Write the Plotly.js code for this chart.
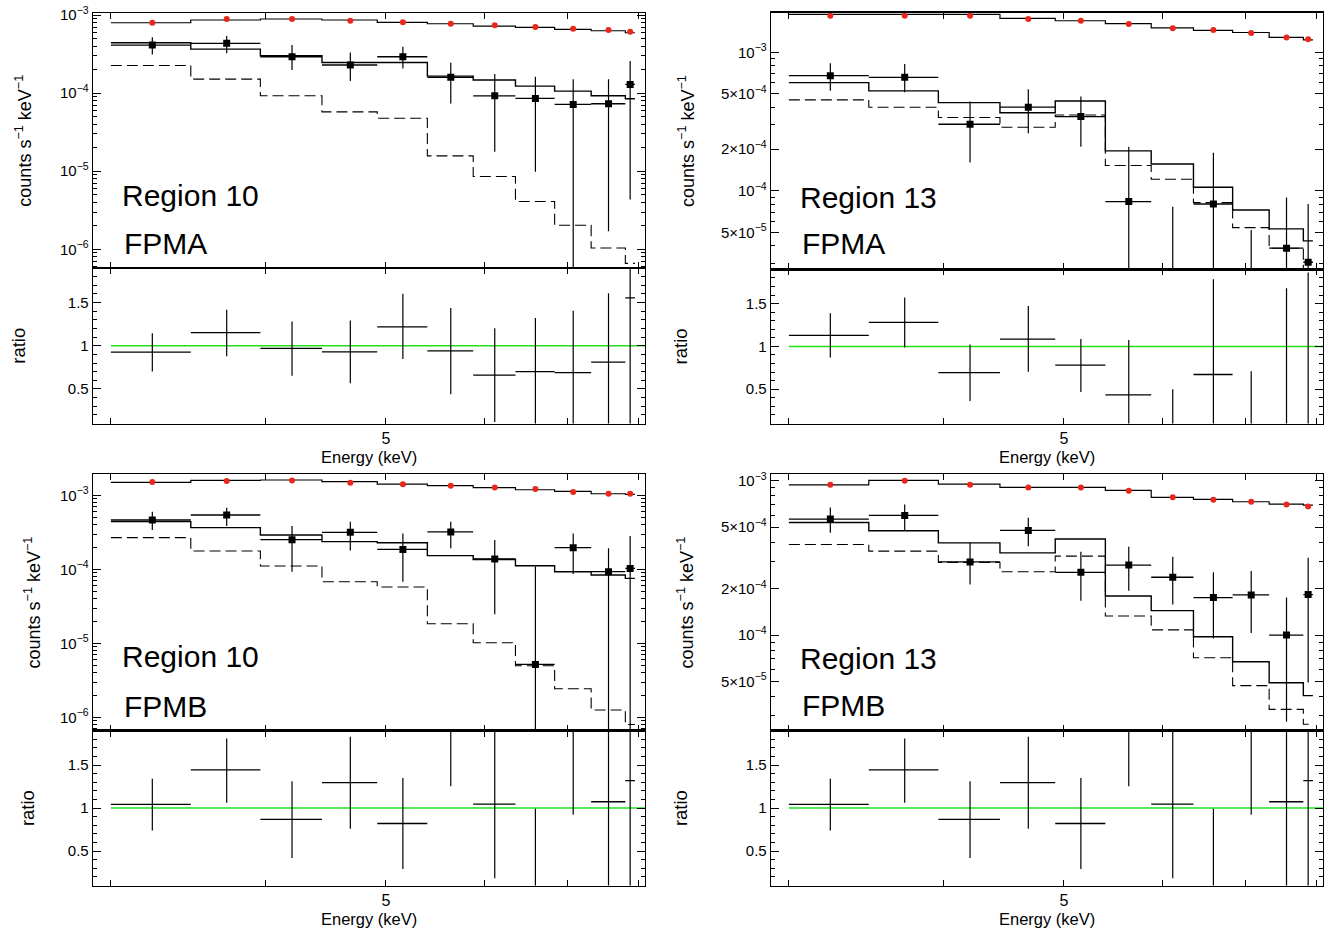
<!DOCTYPE html>
<html>
<head>
<meta charset="utf-8">
<script src="https://cdn.plot.ly/plotly-3.0.1.min.js"></script>
<style>html,body{margin:0;padding:0;background:#fff;}#chart{width:1331px;height:931px;}</style>
</head>
<body>
<div id="chart"></div>
<script>
// ---- energy binning (keV) ----
const binEdges = [3.00, 3.48, 3.96, 4.44, 4.92, 5.40, 5.88, 6.36, 6.84, 7.32, 7.80, 7.94];
const xTickVals = [3, 4, 5, 6, 7, 8];
const xTickText = ['', '', '5', '', '', ''];

// ---- Region 10 FPMA ----
const r10A_bg      = [7.96e-4, 8.89e-4, 8.89e-4, 8.45e-4, 8.05e-4, 7.73e-4, 7.38e-4, 7.02e-4, 6.67e-4, 6.42e-4, 6.11e-4];
const r10A_bgModel = [7.96e-4, 8.63e-4, 8.89e-4, 8.63e-4, 8.05e-4, 7.73e-4, 7.22e-4, 6.95e-4, 6.56e-4, 6.29e-4, 5.93e-4];
const r10A_src     = [4.12e-4, 4.34e-4, 2.92e-4, 2.29e-4, 2.92e-4, 1.59e-4, 9.22e-5, 8.55e-5, 7.17e-5, 7.30e-5, 1.29e-4];
const r10A_srcHi   = [5.18e-4, 5.38e-4, 4.12e-4, 3.32e-4, 3.93e-4, 2.45e-4, 1.75e-4, 1.62e-4, 1.50e-4, 1.50e-4, 2.57e-4];
const r10A_srcLo   = [3.13e-4, 3.23e-4, 1.97e-4, 1.43e-4, 2.07e-4, 7.38e-5, 1.77e-5, 9.8e-6, 1e-9, 1.7e-6, 4.34e-6];
const r10A_model   = [4.41e-4, 3.66e-4, 3.01e-4, 2.47e-4, 2.47e-4, 1.65e-4, 1.47e-4, 1.23e-4, 1.06e-4, 9.24e-5, 8.45e-5];
const r10A_comp    = [2.26e-4, 1.51e-4, 9.24e-5, 5.75e-5, 4.77e-5, 1.57e-5, 8.55e-6, 4.09e-6, 2.03e-6, 1.04e-6, 6.6e-7];
const r10A_ratio   = [0.926, 1.152, 0.969, 0.930, 1.219, 0.941, 0.660, 0.700, 0.690, 0.810, 1.555];
const r10A_ratioHi = [1.145, 1.418, 1.281, 1.293, 1.602, 1.438, 1.203, 1.320, 1.406, 1.609, 2.5];
const r10A_ratioLo = [0.703, 0.879, 0.652, 0.566, 0.848, 0.438, 0.117, -0.5, -0.5, -0.5, -0.5];

// ---- Region 13 FPMA ----
const r13A_bg      = [1.84e-3, 1.84e-3, 1.84e-3, 1.74e-3, 1.69e-3, 1.60e-3, 1.49e-3, 1.45e-3, 1.38e-3, 1.28e-3, 1.24e-3];
const r13A_bgModel = [1.88e-3, 1.88e-3, 1.88e-3, 1.76e-3, 1.69e-3, 1.61e-3, 1.50e-3, 1.44e-3, 1.39e-3, 1.28e-3, 1.23e-3];
const r13A_src     = [6.78e-4, 6.59e-4, 3.02e-4, 4.01e-4, 3.43e-4, 8.34e-5, 1.5e-5, 8.01e-5, 1.5e-5, 3.84e-5, 3.04e-5];
const r13A_srcHi   = [8.33e-4, 8.23e-4, 4.41e-4, 5.41e-4, 4.79e-4, 2.08e-4, 7.67e-5, 1.88e-4, 5.2e-5, 8.91e-5, 8.0e-5];
const r13A_srcLo   = [5.28e-4, 5.14e-4, 1.60e-4, 2.60e-4, 2.08e-4, 1e-6, 1e-6, 1e-6, 1e-6, 1e-6, 1e-6];
const r13A_model   = [6.04e-4, 5.26e-4, 4.33e-4, 3.66e-4, 4.45e-4, 1.94e-4, 1.56e-4, 1.06e-4, 7.26e-5, 5.30e-5, 4.34e-5];
const r13A_comp    = [4.53e-4, 4.01e-4, 3.38e-4, 2.87e-4, 3.52e-4, 1.52e-4, 1.21e-4, 8.20e-5, 5.41e-5, 3.84e-5, 2.60e-5];
const r13A_ratio   = [1.129, 1.281, 0.695, 1.086, 0.781, 0.434, 0.02, 0.672, 0.02, 0.02, 0.02];
const r13A_ratioHi = [1.387, 1.570, 1.023, 1.473, 1.086, 1.074, 0.500, 1.785, 0.711, 1.680, 1.863];
const r13A_ratioLo = [0.871, 0.988, 0.363, 0.703, 0.469, -0.5, -0.5, -0.5, -0.5, -0.5, -0.5];

// ---- Region 10 FPMB ----
const r10B_bg      = [1.51e-3, 1.56e-3, 1.58e-3, 1.48e-3, 1.41e-3, 1.35e-3, 1.28e-3, 1.22e-3, 1.11e-3, 1.05e-3, 1.05e-3];
const r10B_bgModel = [1.50e-3, 1.59e-3, 1.61e-3, 1.53e-3, 1.42e-3, 1.35e-3, 1.27e-3, 1.19e-3, 1.13e-3, 1.05e-3, 1.03e-3];
const r10B_src     = [4.64e-4, 5.42e-4, 2.52e-4, 3.16e-4, 1.86e-4, 3.20e-4, 1.38e-4, 5.2e-6, 1.96e-4, 9.29e-5, 1.03e-4];
const r10B_srcHi   = [6.01e-4, 6.81e-4, 3.85e-4, 4.41e-4, 3.06e-4, 4.41e-4, 2.49e-4, 1.09e-4, 3.06e-4, 1.92e-4, 2.82e-4];
const r10B_srcLo   = [3.40e-4, 3.85e-4, 9.3e-5, 1.79e-4, 6.8e-5, 1.92e-4, 2.47e-5, 1e-9, 8.65e-5, 1e-9, 1e-9];
const r10B_model   = [4.41e-4, 3.66e-4, 2.91e-4, 2.37e-4, 2.29e-4, 1.53e-4, 1.36e-4, 1.12e-4, 9.29e-5, 8.38e-5, 7.55e-5];
const r10B_comp    = [2.68e-4, 1.77e-4, 1.11e-4, 6.81e-5, 5.77e-5, 1.84e-5, 1.02e-5, 4.99e-6, 2.44e-6, 1.26e-6, 8.03e-7];
const r10B_ratio   = [1.043, 1.444, 0.868, 1.296, 0.821, 2.300, 1.047, 0.046, 2.100, 1.074, 1.319];
const r10B_ratioHi = [1.342, 1.809, 1.311, 1.829, 1.350, 3.0, 2.5, 0.992, 3.0, 2.5, 2.5];
const r10B_ratioLo = [0.739, 1.062, 0.420, 0.759, 0.292, 1.253, 0.183, -0.5, 0.922, -0.5, -0.5];

// ---- Region 13 FPMB ----
const r13B_bg      = [9.42e-4, 1.00e-3, 9.42e-4, 9.05e-4, 9.05e-4, 8.61e-4, 7.83e-4, 7.53e-4, 7.31e-4, 7.03e-4, 6.82e-4];
const r13B_bgModel = [9.42e-4, 1.005e-3, 9.52e-4, 9.05e-4, 9.05e-4, 8.66e-4, 7.80e-4, 7.57e-4, 7.31e-4, 7.06e-4, 6.95e-4];
const r13B_src     = [5.65e-4, 5.96e-4, 2.98e-4, 4.77e-4, 2.55e-4, 2.84e-4, 2.37e-4, 1.75e-4, 1.82e-4, 1.00e-4, 1.83e-4];
const r13B_srcHi   = [6.72e-4, 7.03e-4, 3.98e-4, 5.76e-4, 3.47e-4, 3.73e-4, 3.22e-4, 2.55e-4, 2.60e-4, 1.75e-4, 3.17e-4];
const r13B_srcLo   = [4.60e-4, 4.72e-4, 2.13e-4, 3.77e-4, 1.67e-4, 1.94e-4, 1.58e-4, 9.5e-5, 1.03e-4, 2.74e-5, 4.93e-5];
const r13B_model   = [5.37e-4, 4.74e-4, 3.96e-4, 3.41e-4, 4.19e-4, 1.79e-4, 1.44e-4, 9.75e-5, 6.71e-5, 4.91e-5, 4.05e-5];
const r13B_comp    = [3.86e-4, 3.50e-4, 2.96e-4, 2.57e-4, 3.25e-4, 1.33e-4, 1.08e-4, 7.13e-5, 4.70e-5, 3.30e-5, 2.64e-5];
const r13B_ratio   = [1.043, 1.444, 0.868, 1.296, 0.821, 2.300, 1.047, 0.046, 2.100, 1.074, 1.319];
const r13B_ratioHi = [1.342, 1.809, 1.311, 1.829, 1.350, 3.0, 2.5, 0.992, 3.0, 2.5, 2.5];
const r13B_ratioLo = [0.739, 1.062, 0.420, 0.759, 0.292, 1.253, 0.183, -0.5, 0.922, -0.5, -0.5];

// panel labels
const regionLabels = ['Region 10', 'Region 13', 'Region 10', 'Region 13'];
const moduleLabels = ['FPMA', 'FPMA', 'FPMB', 'FPMB'];
const unityLine = [1, 1];
const unityX = [3.0, 9.0];

// ---------- build ----------
const W = 1331, H = 931;
const FONT = 'Liberation Sans, Arial, Helvetica, sans-serif';
const centers = binEdges.slice(0, -1).map((e, i) => (e + binEdges[i + 1]) / 2);
const halfW = binEdges.slice(0, -1).map((e, i) => (binEdges[i + 1] - e) / 2);
const stepY = v => v.concat([v[v.length - 1]]);
const sup = s => s.replace(/\^(-?\d+)/g, (m, p) => '<sup>' + p.replace('-', '−') + '</sup>');

const panels = [
  {bg: r10A_bg, bgm: r10A_bgModel, src: r10A_src, hi: r10A_srcHi, lo: r10A_srcLo, model: r10A_model, comp: r10A_comp,
   ratio: r10A_ratio, rhi: r10A_ratioHi, rlo: r10A_ratioLo,
   xd: [93, 645], sy: [13.3, 268], ry: [268, 423.5], yr: [-6.24, -2.978], style: 'decade',
   lab: [120, 195, 243], yt: [24, 19]},
  {bg: r13A_bg, bgm: r13A_bgModel, src: r13A_src, hi: r13A_srcHi, lo: r13A_srcLo, model: r13A_model, comp: r13A_comp,
   ratio: r13A_ratio, rhi: r13A_ratioHi, rlo: r13A_ratioLo,
   xd: [771, 1323], sy: [12.7, 269.3], ry: [269.3, 423.5], yr: [-4.568, -2.714], style: 'fine',
   lab: [798, 197, 243], yt: [686, 680]},
  {bg: r10B_bg, bgm: r10B_bgModel, src: r10B_src, hi: r10B_srcHi, lo: r10B_srcLo, model: r10B_model, comp: r10B_comp,
   ratio: r10B_ratio, rhi: r10B_ratioHi, rlo: r10B_ratioLo,
   xd: [93, 645], sy: [474.3, 730.7], ry: [730.7, 885.5], yr: [-6.18, -2.716], style: 'decade',
   lab: [120, 656, 706], yt: [33, 27]},
  {bg: r13B_bg, bgm: r13B_bgModel, src: r13B_src, hi: r13B_srcHi, lo: r13B_srcLo, model: r13B_model, comp: r13B_comp,
   ratio: r13B_ratio, rhi: r13B_ratioHi, rlo: r13B_ratioLo,
   xd: [771, 1323], sy: [474.3, 730.7], ry: [730.7, 885.5], yr: [-4.62, -2.958], style: 'fine',
   lab: [798, 658, 705], yt: [686, 680]}
];

const traces = [];
const layout = {
  width: W, height: H, margin: {l: 0, r: 0, t: 0, b: 0},
  paper_bgcolor: '#fff', plot_bgcolor: '#fff', showlegend: false,
  font: {family: FONT, size: 15, color: '#000'},
  annotations: [], shapes: []
};

const axBase = {
  showline: true, linecolor: '#000', linewidth: 1.3, mirror: 'ticks',
  ticks: 'inside', tickcolor: '#000', tickwidth: 1, showgrid: false, zeroline: false,
  tickfont: {family: FONT, size: 15, color: '#000'}, fixedrange: true
};

function logMinor(lo, hi, skip) {
  const out = [];
  for (let e = lo; e <= hi; e++) {
    for (let m = 2; m <= 9; m++) {
      if (skip.indexOf(m) < 0) out.push(m * Math.pow(10, e));
    }
  }
  return out;
}

panels.forEach((p, i) => {
  const sN = 2 * i + 1, rN = 2 * i + 2;
  const sx = 'x' + (sN === 1 ? '' : sN), syk = 'y' + (sN === 1 ? '' : sN);
  const rx = 'x' + rN, ryk = 'y' + rN;
  const xDom = [p.xd[0] / W, p.xd[1] / W];
  const sDom = [1 - p.sy[1] / H, 1 - p.sy[0] / H];
  const rDom = [1 - p.ry[1] / H, 1 - p.ry[0] / H];
  const xr = [Math.log10(2.902), Math.log10(8.09)];

  layout['xaxis' + (sN === 1 ? '' : sN)] = Object.assign({}, axBase, {
    type: 'log', domain: xDom, range: xr, anchor: syk,
    tickmode: 'array', tickvals: xTickVals, ticktext: xTickText, ticklen: 6, showticklabels: false
  });
  layout['xaxis' + rN] = Object.assign({}, axBase, {
    type: 'log', domain: xDom, range: xr, anchor: ryk,
    tickmode: 'array', tickvals: xTickVals, ticktext: xTickText, ticklen: 6,
    tickfont: {family: FONT, size: 16, color: '#000'}
  });

  let tv, tt, mv;
  if (p.style === 'decade') {
    tv = [1e-7, 1e-6, 1e-5, 1e-4, 1e-3];
    tt = tv.map(v => sup('10^' + Math.round(Math.log10(v))));
    mv = logMinor(-7, -3, []);
  } else {
    tv = [2e-5, 5e-5, 1e-4, 2e-4, 5e-4, 1e-3, 2e-3];
    tt = tv.map(v => {
      const e = Math.floor(Math.log10(v) + 1e-9);
      const m = Math.round(v / Math.pow(10, e));
      return (m === 1 ? '' : m + '×') + sup('10^' + e);
    });
    mv = logMinor(-5, -3, [1, 2, 5]);
  }
  layout['yaxis' + (sN === 1 ? '' : sN)] = Object.assign({}, axBase, {
    type: 'log', domain: sDom, range: p.yr, anchor: sx,
    tickmode: 'array', tickvals: tv, ticktext: tt, ticklen: 8
  });
  const rMinor = [];
  for (let k = 1; k <= 19; k++) { const v = k / 10; if (k % 5 !== 0) rMinor.push(v); }
  layout['yaxis' + rN] = Object.assign({}, axBase, {
    domain: rDom, range: [0.1, 1.9], anchor: rx,
    tickmode: 'array', tickvals: [0.5, 1, 1.5], ticktext: ['0.5', '1', '1.5'], ticklen: 8
  });
  // minor tick overlay axes
  const mS = 9 + 2 * i, mR = 10 + 2 * i;
  layout['yaxis' + mS] = Object.assign({}, axBase, {
    type: 'log', range: p.yr, overlaying: syk, anchor: sx, side: 'left',
    tickmode: 'array', tickvals: mv, ticklen: 4, showticklabels: false
  });
  layout['yaxis' + mR] = Object.assign({}, axBase, {
    range: [0.1, 1.9], overlaying: ryk, anchor: rx, side: 'left',
    tickmode: 'array', tickvals: rMinor, ticklen: 4, showticklabels: false
  });
  // invisible carriers so the overlay axes are drawn
  traces.push({x: [centers[0]], y: [p.bg[0]], xaxis: sx, yaxis: 'y' + mS, mode: 'markers',
    marker: {size: 1, color: 'rgba(0,0,0,0)'}, hoverinfo: 'skip'});
  traces.push({x: [centers[0]], y: [p.ratio[0]], xaxis: rx, yaxis: 'y' + mR, mode: 'markers',
    marker: {size: 1, color: 'rgba(0,0,0,0)'}, hoverinfo: 'skip'});

  // component (dashed)
  traces.push({x: binEdges, y: stepY(p.comp), xaxis: sx, yaxis: syk, mode: 'lines',
    line: {shape: 'hv', color: '#000', width: 1.1, dash: '11px,5px'}, hoverinfo: 'skip'});
  // total model (solid)
  traces.push({x: binEdges, y: stepY(p.model), xaxis: sx, yaxis: syk, mode: 'lines',
    line: {shape: 'hv', color: '#000', width: 1.4}, hoverinfo: 'skip'});
  // background model (solid)
  traces.push({x: binEdges, y: stepY(p.bgm), xaxis: sx, yaxis: syk, mode: 'lines',
    line: {shape: 'hv', color: '#000', width: 1.2}, hoverinfo: 'skip'});
  // source data (black squares)
  traces.push({x: centers, y: p.src, xaxis: sx, yaxis: syk, mode: 'markers',
    marker: {symbol: 'square', size: 7, color: '#000'},
    error_x: {type: 'data', array: halfW, visible: true, color: '#000', thickness: 1.3, width: 0},
    error_y: {type: 'data', symmetric: false,
      array: p.hi.map((h, k) => h - p.src[k]), arrayminus: p.lo.map((l, k) => p.src[k] - l),
      visible: true, color: '#000', thickness: 1.2, width: 0}});
  // background data (red dots)
  traces.push({x: centers, y: p.bg, xaxis: sx, yaxis: syk, mode: 'markers',
    marker: {symbol: 'circle', size: 6, color: '#e8281c'}});

  // ratio unity line
  traces.push({x: unityX, y: unityLine, xaxis: rx, yaxis: ryk, mode: 'lines',
    line: {color: '#22e01a', width: 1.5}, hoverinfo: 'skip'});
  // ratio crosses
  traces.push({x: centers, y: p.ratio, xaxis: rx, yaxis: ryk, mode: 'markers',
    marker: {size: 1, color: 'rgba(0,0,0,0)'},
    error_x: {type: 'data', array: halfW, visible: true, color: '#000', thickness: 1.3, width: 0},
    error_y: {type: 'data', symmetric: false,
      array: p.rhi.map((h, k) => h - p.ratio[k]), arrayminus: p.rlo.map((l, k) => p.ratio[k] - l),
      visible: true, color: '#000', thickness: 1.2, width: 0}});

  // labels
  layout.annotations.push({text: regionLabels[i], xref: 'paper', yref: 'paper', x: p.lab[0] / W, y: 1 - p.lab[1] / H,
    xanchor: 'left', yanchor: 'middle', showarrow: false, font: {family: FONT, size: 30, color: '#000'}});
  layout.annotations.push({text: moduleLabels[i], xref: 'paper', yref: 'paper', x: (p.lab[0] + 2) / W, y: 1 - p.lab[2] / H,
    xanchor: 'left', yanchor: 'middle', showarrow: false, font: {family: FONT, size: 30, color: '#000'}});
  // axis titles
  layout.annotations.push({text: 'counts s<sup>−1</sup> keV<sup>−1</sup>', xref: 'paper', yref: 'paper',
    x: p.yt[0] / W, y: 1 - (p.sy[0] + p.sy[1]) / 2 / H, textangle: -90, xanchor: 'center', yanchor: 'middle',
    showarrow: false, font: {family: FONT, size: 18, color: '#000'}});
  layout.annotations.push({text: 'ratio', xref: 'paper', yref: 'paper',
    x: p.yt[1] / W, y: 1 - (p.ry[0] + p.ry[1]) / 2 / H, textangle: -90, xanchor: 'center', yanchor: 'middle',
    showarrow: false, font: {family: FONT, size: 18.5, color: '#000'}});
  layout.annotations.push({text: 'Energy (keV)', xref: 'paper', yref: 'paper',
    x: (p.xd[0] + p.xd[1]) / 2 / W, y: 1 - (p.ry[1] + 33) / H, xanchor: 'center', yanchor: 'middle',
    showarrow: false, font: {family: FONT, size: 16.5, color: '#000'}});
});

Plotly.newPlot('chart', traces, layout, {staticPlot: true, displayModeBar: false});
</script>
</body>
</html>
